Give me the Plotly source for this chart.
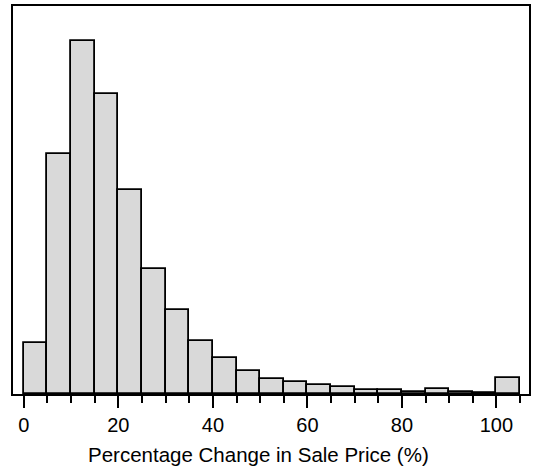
import plotly.graph_objects as go

bin_starts = [0, 5, 10, 15, 20, 25, 30, 35, 40, 45, 50, 55, 60, 65, 70, 75, 80, 85, 90, 95, 100]
percent = [3.3, 15.5, 22.8, 19.4, 13.2, 8.1, 5.4, 3.4, 2.3, 1.5, 0.97, 0.76, 0.58, 0.43, 0.28, 0.28, 0.15, 0.30, 0.15, 0.09, 1.05]
bin_width = 5
tick_vals = [0, 20, 40, 60, 80, 100]
x_title = "Percentage Change in Sale Price (%)"

centers = [s + bin_width / 2 for s in bin_starts]

fig = go.Figure(go.Bar(
    x=centers, y=percent, width=[bin_width] * len(centers),
    marker=dict(color="#d9d9d9", line=dict(color="black", width=1.8)),
    hoverinfo="skip",
))

fig.update_layout(
    width=533, height=468,
    margin=dict(l=13, r=4, t=6, b=74),
    paper_bgcolor="white", plot_bgcolor="white",
    showlegend=False,
    font=dict(family="Liberation Sans, Arial, sans-serif", color="black", size=20),
    bargap=0,
)
fig.add_annotation(
    text=x_title, xref="paper", yref="paper", x=0.4767, y=-0.157,
    xanchor="center", yanchor="middle", showarrow=False,
    font=dict(size=20.5, color="black"),
)
fig.update_xaxes(
    range=[-2.3, 106.9],
    automargin=False,
    tickvals=tick_vals, ticktext=[str(v) for v in tick_vals],
    ticks="outside", ticklen=12, tickwidth=2, tickcolor="black",
    minor=dict(dtick=5, tick0=0, ticks="outside", ticklen=7, tickwidth=2, tickcolor="black"),
    showline=True, linecolor="black", linewidth=2, mirror=True,
    showgrid=False, zeroline=False,
    tickfont=dict(size=20),
)
fig.update_yaxes(
    range=[0, 25.06],
    automargin=False,
    showticklabels=False, ticks="",
    showline=True, linecolor="black", linewidth=2, mirror=True,
    showgrid=False, zeroline=False,
)

fig.write_html(
    "out.html",
    config={"displayModeBar": False},
    post_script="document.body.style.margin='0px';document.body.style.overflow='hidden';",
)
